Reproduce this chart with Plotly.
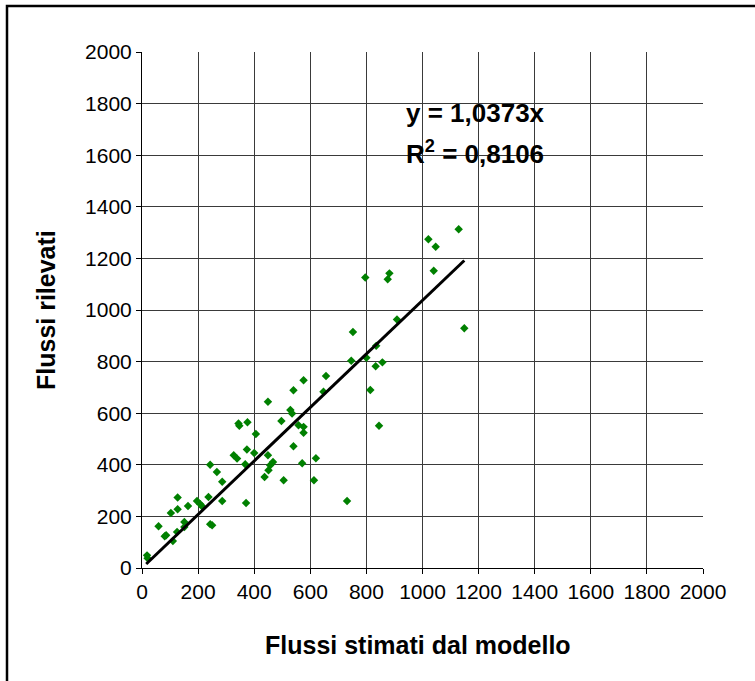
"""Dispersione flussi stimati vs rilevati con retta di regressione per l'origine."""

import numpy as np
import plotly.graph_objects as go

# Flussi stimati dal modello (asse x) e flussi rilevati (asse y)
flussi_stimati = [
    18, 20, 110, 81, 86, 125, 59, 151, 151, 243, 250, 103, 164, 127, 196, 208,
    214, 237, 286, 371, 127, 286, 243, 267, 437, 505, 613, 368, 451, 457, 467,
    449, 400, 374, 327, 339, 571, 620, 540, 406, 344, 347, 376, 497, 558, 576,
    576, 529, 535, 449, 540, 647, 576, 909, 1149, 752, 835, 746, 800, 833, 857,
    656, 814, 845, 731, 1129, 1021, 1047, 1040, 796, 882, 876,
]
flussi_rilevati = [
    49, 38, 105, 123, 127, 140, 162, 178, 159, 170, 166, 213, 240, 228, 260,
    247, 239, 275, 260, 252, 273, 334, 400, 372, 353, 340, 340, 402, 379, 398,
    411, 437, 446, 459, 437, 424, 406, 425, 472, 519, 560, 551, 565, 570, 553,
    547, 524, 612, 599, 644, 689, 683, 728, 963, 929, 915, 861, 803, 815, 782,
    797, 744, 690, 551, 260, 1313, 1274, 1245, 1152, 1126, 1142, 1119,
]

pendenza = 1.0373
r_quadro = "0,8106"
tick_valori = list(range(0, 2001, 200))

FONT = "Liberation Sans, Arial, sans-serif"
W, H = 755, 681
ML, MR, MT, MB = 142, 52, 52, 113
PW, PH = W - ML - MR, H - MT - MB


def px_x(px):
    # pixel orizzontale della pagina -> coordinata paper
    return (px - ML) / PW


def px_y(py):
    return (H - MB - py) / PH


x = np.asarray(flussi_stimati, dtype=float)
y = np.asarray(flussi_rilevati, dtype=float)
x_linea = np.array([x.min() - 3, x.max()])
y_linea = pendenza * x_linea

fig = go.Figure()

fig.add_trace(
    go.Scatter(
        x=x,
        y=y,
        mode="markers",
        marker=dict(symbol="diamond", size=6.5, color="#008000"),
        showlegend=False,
        hoverinfo="x+y",
    )
)

# Retta di tendenza lineare (intercetta zero)
fig.add_trace(
    go.Scatter(
        x=x_linea,
        y=y_linea,
        mode="lines",
        line=dict(color="#000000", width=3),
        showlegend=False,
        hoverinfo="skip",
    )
)

asse = dict(
    range=[0, 2000],
    tickvals=tick_valori,
    showgrid=True,
    gridcolor="#3a3a3a",
    gridwidth=1,
    zeroline=False,
    showline=True,
    linecolor="#000000",
    linewidth=1,
    ticks="outside",
    ticklen=5,
    tickcolor="#000000",
    tickfont=dict(family=FONT, size=21, color="#000000"),
    fixedrange=True,
)

fig.update_layout(
    width=W,
    height=H,
    margin=dict(l=ML, r=MR, t=MT, b=MB, pad=0),
    paper_bgcolor="#ffffff",
    plot_bgcolor="#ffffff",
    xaxis=dict(asse),
    yaxis=dict(asse),
    showlegend=False,
)

# Bordo esterno del grafico (solo lato superiore e sinistro visibili)
fig.add_shape(
    type="path",
    xref="paper",
    yref="paper",
    path=f"M {px_x(7)} {px_y(690)} L {px_x(7)} {px_y(6)} L {px_x(760)} {px_y(6)}",
    line=dict(color="#000000", width=2.5),
)

# Titoli degli assi
fig.add_annotation(
    xref="paper", yref="paper",
    x=px_x(418), y=px_y(645),
    xanchor="center", yanchor="middle",
    text="<b>Flussi stimati dal modello</b>",
    showarrow=False,
    font=dict(family=FONT, size=25, color="#000000"),
)
fig.add_annotation(
    xref="paper", yref="paper",
    x=px_x(46), y=px_y(310),
    xanchor="center", yanchor="middle",
    text="<b>Flussi rilevati</b>",
    textangle=-90,
    showarrow=False,
    font=dict(family=FONT, size=25, color="#000000"),
)

# Equazione e R²
fig.add_annotation(
    xref="paper", yref="paper",
    x=px_x(404), y=px_y(113),
    xanchor="left", yanchor="middle",
    text=f"<b>y = {str(pendenza).replace('.', ',')}x</b>",
    showarrow=False,
    font=dict(family=FONT, size=26, color="#000000"),
)
fig.add_annotation(
    xref="paper", yref="paper",
    x=px_x(404), y=px_y(152),
    xanchor="left", yanchor="middle",
    text=f"<b>R<sup>2</sup> = {r_quadro}</b>",
    showarrow=False,
    font=dict(family=FONT, size=26, color="#000000"),
)

# La pagina di default ha un margine di 8px sul body: lo azzeriamo
fig.write_html(
    "out.html",
    config={"displayModeBar": False},
    post_script="document.body.style.margin = '0';",
)
